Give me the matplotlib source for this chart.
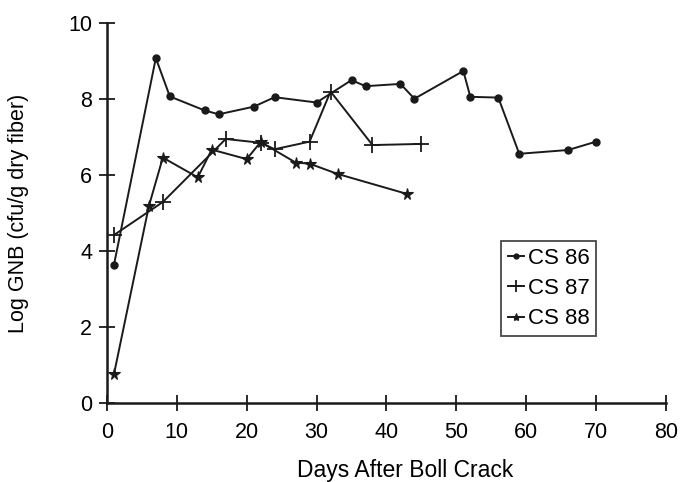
import matplotlib.pyplot as plt

plt.rcParams['font.family'] = ['Liberation Sans', 'DejaVu Sans']

# CS 86
days_86 = [1, 7, 9, 14, 16, 21, 24, 30, 35, 37, 42, 44, 51, 52, 56, 59, 66, 70]
gnb_86 = [3.63, 9.08, 8.07, 7.70, 7.60, 7.80, 8.05, 7.91, 8.50, 8.34, 8.40, 8.01,
          8.74, 8.06, 8.04, 6.56, 6.66, 6.88]

# CS 87
days_87 = [1, 8, 17, 22, 24, 29, 32, 38, 45]
gnb_87 = [4.42, 5.29, 6.95, 6.85, 6.68, 6.88, 8.20, 6.79, 6.82]

# CS 88
days_88 = [1, 6, 8, 13, 15, 20, 22, 27, 29, 33, 43]
gnb_88 = [0.75, 5.18, 6.46, 5.94, 6.67, 6.42, 6.87, 6.33, 6.30, 6.03, 5.50]

fig = plt.figure(figsize=(6.81, 4.82), dpi=100)
ax = fig.add_axes([0.157, 0.164, 0.821, 0.788])

line_kw = dict(color='#1a1a1a', linewidth=1.4)
ax.plot(days_86, gnb_86, marker='o', markersize=5, label='CS 86', **line_kw)
ax.plot(days_87, gnb_87, marker='+', markersize=12, markeredgewidth=1.3,
        label='CS 87', **line_kw)
ax.plot(days_88, gnb_88, marker='*', markersize=8.5, markeredgewidth=0.8,
        label='CS 88', **line_kw)

ax.set_xlim(0, 80)
ax.set_ylim(0, 10)
ax.set_xticks(range(0, 81, 10))
ax.set_yticks(range(0, 11, 2))

for side in ('top', 'right'):
    ax.spines[side].set_visible(False)
for side in ('left', 'bottom'):
    ax.spines[side].set_linewidth(1.8)
    ax.spines[side].set_color('#1a1a1a')

ax.tick_params(direction='inout', length=12, width=1.3, color='#1a1a1a',
               labelsize=15.5)
ax.tick_params(axis='y', pad=4.5)
ax.tick_params(axis='x', pad=7.5)

ax.set_xlabel('Days After Boll Crack', fontsize=16.5, labelpad=12)
ax.xaxis.label.set_x(0.533)
ax.set_ylabel('Log GNB (cfu/g dry fiber)', fontsize=15.5, labelpad=28)

leg = ax.legend(loc='upper left', bbox_to_anchor=(0.705, 0.426), fontsize=16,
                frameon=True, fancybox=False, handlelength=0.75,
                handletextpad=0.15, borderpad=0.3, labelspacing=0.42,
                borderaxespad=0)
leg.get_frame().set_edgecolor('#1a1a1a')
leg.get_frame().set_linewidth(1.3)
for h in leg.legend_handles:
    h.set_markersize(h.get_markersize() * 0.7)

fig.savefig('out.png', dpi=100)
